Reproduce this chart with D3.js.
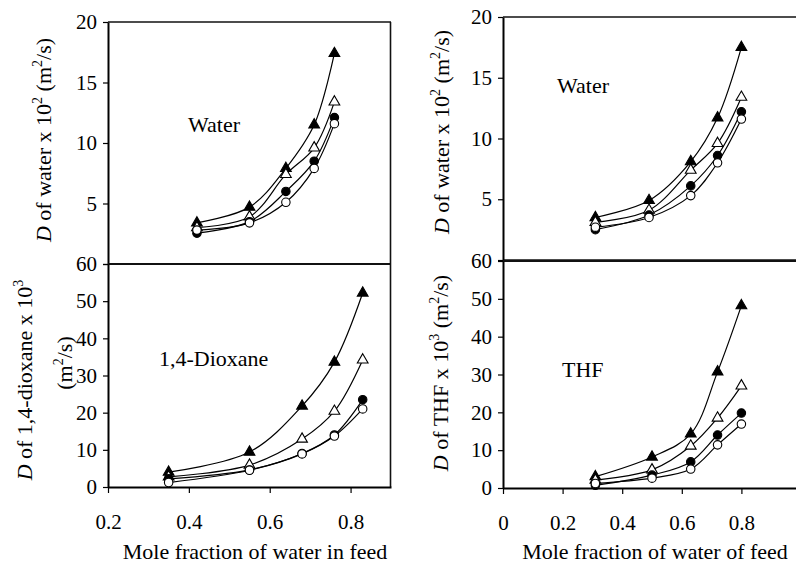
<!DOCTYPE html>
<html>
<head>
<meta charset="utf-8">
<script src="https://cdn.jsdelivr.net/npm/d3@7"></script>
<style>
  body { margin: 0; background: #ffffff; }
  svg text { font-family: "Times New Roman", "Liberation Serif", serif; fill: #000000; }
</style>
</head>
<body>
<svg id="chart" width="796" height="569"></svg>
<script>
// marker order used in every panel
let markerKinds   = ["filledTri", "openTri", "filledCirc", "openCirc"];

// top left : water diffusivity, dioxane / water feed
let xWaterDiox    = [0.42, 0.55, 0.64, 0.71, 0.76];
let waterDioxFT   = [3.4, 4.7, 7.9, 11.5, 17.4];
let waterDioxOT   = [3.0, 3.9, 7.4, 9.6, 13.4];
let waterDioxFC   = [2.55, 3.5, 6.0, 8.5, 12.1];
let waterDioxOC   = [2.8, 3.4, 5.1, 7.9, 11.6];

// bottom left : 1,4-dioxane diffusivity
let xDiox         = [0.35, 0.55, 0.68, 0.76, 0.83];
let dioxFT        = [4.0, 9.4, 21.8, 33.6, 52.2];
let dioxOT        = [2.7, 5.9, 12.9, 20.4, 34.2];
let dioxFC        = [2.2, 4.6, 9.0, 14.0, 23.5];
let dioxOC        = [1.2, 4.5, 8.9, 13.7, 21.0];

// top right : water diffusivity, THF / water feed
let xWaterThf     = [0.31, 0.49, 0.63, 0.72, 0.80];
let waterThfFT    = [3.5, 4.9, 8.1, 11.7, 17.5];
let waterThfOT    = [3.1, 4.1, 7.4, 9.6, 13.4];
let waterThfFC    = [2.5, 3.7, 6.1, 8.6, 12.2];
let waterThfOC    = [2.7, 3.5, 5.3, 8.0, 11.6];

// bottom right : THF diffusivity
let xThf          = [0.31, 0.50, 0.63, 0.72, 0.80];
let thfFT         = [3.0, 8.2, 14.3, 30.7, 48.2];
let thfOT         = [2.1, 4.8, 11.1, 18.5, 27.0];
let thfFC         = [0.7, 3.4, 6.9, 14.0, 19.8];
let thfOC         = [1.2, 2.6, 5.0, 11.4, 16.9];

// tick values
let waterYTicks   = [0, 5, 10, 15, 20];
let solvYTicks    = [0, 10, 20, 30, 40, 50, 60];
let leftXTicks    = [0.2, 0.4, 0.6, 0.8];
let rightXTicks   = [0, 0.2, 0.4, 0.6, 0.8, 1];

let svg = d3.select("#chart");
let serif = "'Times New Roman', 'Liberation Serif', serif";
let tickFont = 21;
let textFont = 22;

let panels = [
    { left: 108, right: 391, top: 22,  bottom: 264, xDom: [0.2, 0.9], yDom: [0, 20],
      xs: xWaterDiox, ys: [waterDioxFT, waterDioxOT, waterDioxFC, waterDioxOC],
      yTicks: waterYTicks, xTicks: null, label: "Water", lx: 188, ly: 132, rightLine: true },
    { left: 108, right: 391, top: 264, bottom: 487, xDom: [0.2, 0.9], yDom: [0, 60],
      xs: xDiox, ys: [dioxFT, dioxOT, dioxFC, dioxOC],
      yTicks: solvYTicks, xTicks: leftXTicks, label: "1,4-Dioxane", lx: 159, ly: 366, rightLine: true },
    { left: 503, right: 801, top: 17,  bottom: 260, xDom: [0, 1], yDom: [0, 20],
      xs: xWaterThf, ys: [waterThfFT, waterThfOT, waterThfFC, waterThfOC],
      yTicks: waterYTicks, xTicks: null, label: "Water", lx: 557, ly: 93, rightLine: false },
    { left: 503, right: 801, top: 261, bottom: 488, xDom: [0, 1], yDom: [0, 60],
      xs: xThf, ys: [thfFT, thfOT, thfFC, thfOC],
      yTicks: solvYTicks, xTicks: rightXTicks, label: "THF", lx: 562, ly: 377, rightLine: false }
];

panels.forEach(function(p){
    let x = d3.scaleLinear().domain(p.xDom).range([p.left, p.right]);
    let y = d3.scaleLinear().domain(p.yDom).range([p.bottom, p.top]);
    let g = svg.append("g");
    let isTop = !p.xTicks;

    // frame lines (top, right, bottom)
    g.append("line")
        .attr("x1", p.left).attr("x2", Math.min(p.right, 796))
        .attr("y1", p.top).attr("y2", p.top)
        .attr("stroke", "#111").attr("stroke-width", isTop ? 1.4 : 2.2);
    if( p.rightLine ){
        g.append("line")
            .attr("x1", p.right - 0.5).attr("x2", p.right - 0.5)
            .attr("y1", p.top).attr("y2", p.bottom)
            .attr("stroke", "#111").attr("stroke-width", 1.6);
    }
    if( isTop ){
        g.append("line")
            .attr("x1", p.left).attr("x2", Math.min(p.right, 796))
            .attr("y1", p.bottom).attr("y2", p.bottom)
            .attr("stroke", "#111").attr("stroke-width", 1.4);
    }

    // y axis ; the top panels' 0 sits under the 60 of the panel below
    let yAx = g.append("g")
        .attr("transform", "translate(" + p.left + ",0)")
        .call(d3.axisLeft(y).tickValues(p.yTicks).tickSize(5).tickSizeOuter(0).tickPadding(6)
                .tickFormat(d => (isTop && d === 0) ? "" : String(d)));
    yAx.attr("font-family", serif).attr("font-size", tickFont);
    yAx.select(".domain").attr("stroke", "#000").attr("stroke-width", 2);
    yAx.selectAll(".tick line").attr("stroke", "#000").attr("stroke-width", 1.2);
    yAx.selectAll("text").style("font-family", serif).attr("font-size", tickFont);

    // x axis (bottom panels only)
    if( !isTop ){
        let xAx = g.append("g")
            .attr("transform", "translate(0," + p.bottom + ")")
            .call(d3.axisBottom(x).tickValues(p.xTicks).tickSize(6).tickSizeOuter(0).tickPadding(21).tickFormat(d => String(d)));
        xAx.attr("font-family", serif).attr("font-size", tickFont);
        xAx.select(".domain").attr("stroke", "#000").attr("stroke-width", 2);
        xAx.selectAll(".tick line").attr("stroke", "#000").attr("stroke-width", 1.2);
        xAx.selectAll("text").style("font-family", serif).attr("font-size", tickFont);
    }

    // smoothed series lines
    let line = d3.line()
        .x((d, i) => x(p.xs[i]))
        .y(d => y(d))
        .curve(d3.curveCatmullRom);

    p.ys.forEach(function(vals){
        g.append("path")
            .attr("d", line(vals))
            .attr("fill", "none")
            .attr("stroke", "#000")
            .attr("stroke-width", 1.2);
    });

    // markers, drawn on top
    p.ys.forEach(function(vals, si){
        let kind = markerKinds[si];
        let isTri = kind.indexOf("Tri") > -1;
        let filled = kind.indexOf("filled") === 0;
        g.selectAll(null)
            .data(vals)
            .enter()
                .append("path")
                    .attr("d", d3.symbol().type(isTri ? d3.symbolTriangle : d3.symbolCircle).size(isTri ? 50 : 56))
                    .attr("transform", (d, i) => "translate(" + x(p.xs[i]) + "," + y(d) + ")")
                    .attr("fill", filled ? "#000" : "#fff")
                    .attr("stroke", "#000")
                    .attr("stroke-width", 1.1);
    });

    // in-plot label
    g.append("text")
        .attr("x", p.lx).attr("y", p.ly)
        .attr("font-size", textFont)
        .style("font-family", serif)
        .text(p.label);
});

// rotated axis titles made of pieces: [text, italic, superscript]
function rotTitle(cx, cy, parts){
    let t = svg.append("text")
        .attr("transform", "translate(" + (cx + 7) + "," + cy + ") rotate(-90)")
        .attr("text-anchor", "middle")
        .attr("font-size", textFont)
        .style("font-family", serif);
    let up = false;
    parts.forEach(function(pt){
        let s = t.append("tspan").text(pt[0]);
        if( pt[1] ) s.attr("font-style", "italic");
        if( pt[2] ){
            s.attr("font-size", 14).attr("dy", -9);
            up = true;
        }else if( up ){
            s.attr("dy", 9);
            up = false;
        }
    });
}

rotTitle(44, 140, [["D", true], [" of water x 10"], ["2", false, true], [" (m"], ["2", false, true], ["/s)"]]);
rotTitle(25, 380, [["D", true], [" of 1,4-dioxane x 10"], ["3", false, true]]);
rotTitle(65, 363, [["(m"], ["2", false, true], ["/s)"]]);
rotTitle(442, 132, [["D", true], [" of water x 10"], ["2", false, true], [" (m"], ["2", false, true], ["/s)"]]);
rotTitle(441, 373, [["D", true], [" of THF x 10"], ["3", false, true], [" (m"], ["2", false, true], ["/s)"]]);

// x titles
svg.append("text")
    .attr("x", 255).attr("y", 559)
    .attr("text-anchor", "middle")
    .attr("font-size", textFont)
    .style("font-family", serif)
    .text("Mole fraction of water in feed");
svg.append("text")
    .attr("x", 655).attr("y", 559)
    .attr("text-anchor", "middle")
    .attr("font-size", textFont)
    .style("font-family", serif)
    .text("Mole fraction of water of feed");
</script>
</body>
</html>
